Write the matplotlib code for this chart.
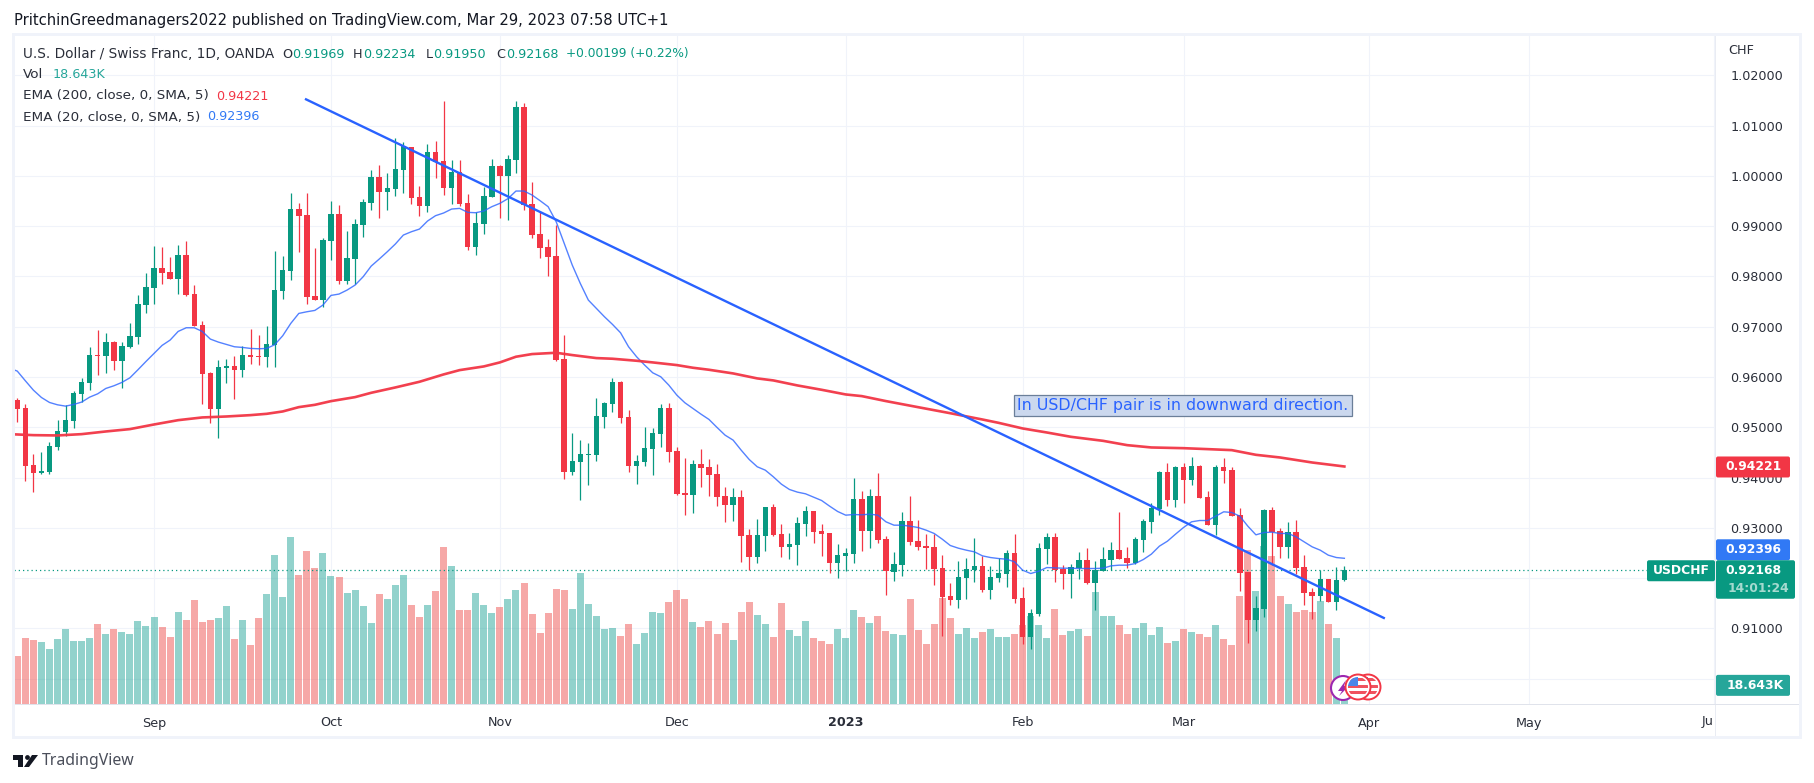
import numpy as np
import matplotlib
matplotlib.use('Agg')
import matplotlib.pyplot as plt
from matplotlib.patches import Rectangle, FancyBboxPatch, Circle, Polygon

plt.rcParams['font.family'] = ['DejaVu Sans']

# daily candles, in pips (price * 10000)
opens = np.array([
    9554, 9538.1, 9424.7, 9408.8, 9410.8, 9460.5, 9490.4, 9512.3, 9566, 9587.9,
    9643.5, 9641.5, 9669.4, 9631.6, 9659.4, 9679.3, 9743, 9776.8, 9816.6, 9808,
    9794.7, 9842.4, 9764.9, 9703.2, 9607.7, 9536.1, 9617.7, 9621.7, 9613.7, 9643.5,
    9641.5, 9639.6, 9663.4, 9770.8, 9810.6, 9933.9, 9922, 9760.9, 9752.9, 9870.3,
    9924, 9790.7, 9834.5, 9902.1, 9945.9, 9997.6, 9967.7, 9973.7, 10011.5, 10057.2,
    9957.8, 9939.9, 10047.3, 10029.4, 9975.7, 10007.5, 9945.9, 9858.3, 9904.1, 9957.8,
    10019.4, 9999.6, 10031.4, 10136.8, 9943.9, 9884.2, 9858.3, 9840.4, 9635.6, 9410.9,
    9430.7, 9444.7, 9444.7, 9520.2, 9546.1, 9589.9, 9520.2, 9422.8, 9430.7, 9456.6,
    9486.4, 9538.1, 9452.6, 9369.1, 9365.1, 9426.8, 9420.8, 9406.9, 9363.1, 9345.2,
    9361.1, 9285.6, 9241.8, 9283.6, 9341.2, 9287.5, 9261.7, 9265.6, 9307.4, 9333.3,
    9293.5, 9289.5, 9229.9, 9243.8, 9247.8, 9357.1, 9293.5, 9363.1, 9277.6, 9212,
    9225.9, 9313.4, 9273.6, 9263.7, 9261.7, 9219.9, 9164.2, 9156.2, 9200, 9215.9,
    9223.9, 9176.2, 9200, 9208, 9249.8, 9160.2, 9082.7, 9128.4, 9257.7, 9281.6,
    9217.9, 9208, 9219.9, 9235.8, 9190.1, 9214, 9235.8, 9255.7, 9239.8, 9229.9,
    9275.6, 9311.4, 9337.3, 9410.9, 9355.2, 9420.8, 9395, 9422.8, 9361.1, 9305.4,
    9420.8, 9414.8, 9325.3, 9212, 9116.5, 9138.4, 9335.3, 9293.5, 9261.7, 9291.5,
    9221.9, 9172.2, 9164.2, 9198, 9152.3, 9196.9]) / 1e4
highs = np.array([
    9557.3, 9546.1, 9446.6, 9450.6, 9470.5, 9514.2, 9543.4, 9571.9, 9597.8, 9659.4,
    9693.3, 9687.3, 9671.4, 9669.4, 9707.2, 9762.9, 9806.6, 9860.3, 9858.3, 9838.5,
    9862.3, 9870.3, 9782.8, 9711.2, 9609.7, 9633.6, 9635.6, 9641.5, 9661.4, 9695.3,
    9683.3, 9701.2, 9850.4, 9840.4, 9965.8, 9945.9, 9965.8, 9856.4, 9876.2, 9949.8,
    9941.9, 9890.2, 9914, 9953.8, 10011.5, 10021.4, 10005.5, 10075.1, 10067.2, 10057.2,
    9979.7, 10063.2, 10069.2, 10148.7, 10031.4, 10031.4, 9963.8, 9928, 9977.7, 10033.4,
    10021.4, 10041.3, 10148.7, 10144.8, 9987.6, 9928, 9874.2, 9902.1, 9683.3, 9488.4,
    9474.5, 9468.5, 9558, 9550, 9597.8, 9591.8, 9534.2, 9444.7, 9500.4, 9498.4,
    9546.1, 9548.1, 9460.6, 9438.7, 9434.7, 9456.6, 9436.7, 9426.8, 9381, 9379,
    9375, 9297.5, 9317.4, 9341.2, 9347.2, 9307.4, 9289.5, 9321.3, 9343.2, 9333.3,
    9307.4, 9289.5, 9267.6, 9259.7, 9398.9, 9373.1, 9377, 9408.9, 9283.6, 9251.7,
    9331.3, 9363.1, 9315.4, 9287.5, 9287.5, 9245.8, 9190.1, 9233.8, 9239.8, 9279.6,
    9243.8, 9223.9, 9239.8, 9255.7, 9287.5, 9182.1, 9138.4, 9269.6, 9289.5, 9289.5,
    9225.9, 9227.9, 9251.7, 9259.7, 9233.8, 9261.7, 9271.6, 9331.3, 9261.7, 9281.6,
    9317.4, 9349.2, 9412.8, 9428.8, 9422.8, 9428.8, 9440.7, 9424.8, 9373.1, 9424.8,
    9438.7, 9420.8, 9339.3, 9212, 9164.2, 9337.3, 9341.2, 9299.5, 9311.4, 9315.4,
    9245.8, 9180.1, 9215.9, 9198, 9221.9, 9223.4]) / 1e4
lows = np.array([
    9510.9, 9392.9, 9371, 9406.8, 9406.8, 9454.6, 9482.4, 9498.3, 9550.1, 9573.9,
    9603.8, 9607.7, 9613.7, 9577.9, 9657.5, 9665.4, 9727.1, 9745, 9784.8, 9794.7,
    9764.9, 9760.9, 9701.2, 9546.1, 9508.3, 9478.4, 9587.9, 9556, 9599.8, 9625.6,
    9623.7, 9619.7, 9619.7, 9754.9, 9792.7, 9848.4, 9745, 9752.9, 9739.7, 9832.5,
    9784.7, 9784.7, 9784.7, 9878.2, 9931.9, 9916, 9931.9, 9959.8, 9965.8, 9943.9,
    9920, 9928, 9995.6, 9961.8, 9943.9, 9939.9, 9852.4, 9842.4, 9884.2, 9957.8,
    9916, 9912, 10005.5, 9931.9, 9876.2, 9836.5, 9800.7, 9631.6, 9396.9, 9404.9,
    9355.2, 9385, 9432.7, 9498.4, 9530.2, 9508.3, 9410.9, 9387, 9422.8, 9404.9,
    9460.6, 9430.7, 9365.1, 9325.3, 9329.3, 9381, 9363.1, 9343.2, 9311.4, 9313.4,
    9231.8, 9215.9, 9229.9, 9253.7, 9283.6, 9241.8, 9237.8, 9225.9, 9283.6, 9269.6,
    9243.8, 9210, 9200, 9213.9, 9229.9, 9253.7, 9259.7, 9269.6, 9166.2, 9194.1,
    9204, 9265.7, 9255.7, 9217.9, 9186.1, 9084.7, 9146.3, 9140.3, 9158.2, 9192.1,
    9172.2, 9158.2, 9192.1, 9182.1, 9150.3, 9068.7, 9058.8, 9124.4, 9227.9, 9192.1,
    9178.1, 9160.2, 9198, 9188.1, 9136.4, 9214, 9215.9, 9237.8, 9219.9, 9227.9,
    9251.7, 9289.5, 9325.3, 9343.2, 9341.2, 9349.2, 9385, 9359.1, 9305.4, 9285.5,
    9389, 9323.3, 9174.2, 9070.8, 9094.6, 9122.4, 9225.9, 9239.8, 9239.8, 9208,
    9146.3, 9118.5, 9154.3, 9152.3, 9136.4, 9195]) / 1e4
closes = np.array([
    9536.1, 9422.8, 9408.8, 9412.8, 9462.5, 9492.4, 9514.2, 9567.9, 9589.8, 9643.5,
    9641.5, 9669.4, 9631.6, 9661.4, 9681.3, 9745, 9778.8, 9816.6, 9806.6, 9794.7,
    9842.4, 9762.9, 9701.2, 9605.7, 9536.1, 9619.7, 9621.7, 9613.7, 9643.5, 9639.6,
    9639.6, 9665.4, 9772.8, 9812.6, 9933.9, 9920, 9758.9, 9752.9, 9872.3, 9924,
    9790.7, 9836.5, 9904.1, 9947.8, 9997.6, 9967.7, 9975.7, 10013.5, 10059.2, 9955.8,
    9939.9, 10047.3, 10027.4, 9975.7, 10007.5, 9943.9, 9858.3, 9906.1, 9959.8, 10019.4,
    9999.6, 10033.4, 10136.8, 9941.9, 9882.2, 9856.4, 9838.5, 9633.6, 9410.9, 9432.7,
    9446.7, 9446.7, 9522.2, 9548.1, 9589.9, 9518.3, 9422.8, 9432.7, 9458.6, 9488.4,
    9538.1, 9450.6, 9367.1, 9365.1, 9426.8, 9418.8, 9404.9, 9361.1, 9345.2, 9361.1,
    9283.6, 9241.8, 9285.6, 9341.2, 9285.6, 9261.7, 9267.6, 9309.4, 9333.3, 9291.5,
    9287.5, 9229.9, 9245.8, 9249.7, 9357.1, 9293.5, 9363.1, 9275.6, 9213.9, 9227.9,
    9313.4, 9271.6, 9261.7, 9259.7, 9217.9, 9162.2, 9156.2, 9202, 9217.9, 9223.9,
    9176.2, 9202, 9210, 9249.8, 9158.2, 9082.7, 9130.4, 9259.7, 9281.6, 9215.9,
    9208, 9221.9, 9235.8, 9190.1, 9215.9, 9237.8, 9255.7, 9237.8, 9229.9, 9277.6,
    9313.4, 9339.3, 9410.9, 9355.2, 9420.8, 9395, 9422.8, 9359.1, 9305.4, 9420.8,
    9412.8, 9323.3, 9210, 9116.5, 9140.4, 9335.3, 9291.5, 9261.7, 9291.5, 9219.9,
    9170.2, 9164.2, 9198, 9152.3, 9196, 9216.8]) / 1e4

# volume in K
volumes = [
    48, 66, 64, 62, 55, 65, 75, 63, 63, 66,
    80, 70, 75, 72, 70, 83, 78, 87, 77, 67,
    92, 84, 104, 82, 84, 86, 98, 65, 84, 59,
    86, 110, 149, 107, 167, 129, 153, 136, 151, 128,
    127, 111, 114, 98, 81, 110, 105, 119, 129, 99,
    87, 99, 113, 157, 138, 94, 94, 111, 99, 91,
    97, 105, 114, 121, 90, 71, 91, 115, 114, 95,
    131, 100, 88, 75, 76, 68, 80, 60, 71, 92,
    91, 102, 114, 105, 82, 77, 83, 70, 81, 64,
    92, 102, 89, 80, 67, 101, 74, 68, 83, 66,
    63, 60, 75, 66, 94, 87, 81, 88, 73, 70,
    69, 105, 74, 60, 80, 106, 86, 70, 76, 66,
    72, 75, 67, 67, 70, 79, 88, 79, 66, 95,
    69, 73, 75, 68, 112, 88, 88, 79, 70, 76,
    81, 69, 77, 61, 63, 75, 72, 70, 67, 79,
    65, 59, 108, 154, 113, 158, 148, 108, 100, 92,
    94, 92, 103, 80, 66, 18.643]

# EMA 20, one reading per bar, starting one bar left of the first candle
ema20_vals = np.array([
    9617.7, 9611.7, 9592.5, 9573.9, 9559.3, 9549.4, 9544.7, 9542.1, 9545.4, 9550.1, 9560,
    9566.6, 9577.2, 9582.5, 9589.2, 9598.4, 9614.4, 9630.9, 9646.9, 9662.8, 9673.4,
    9690.6, 9697.9, 9697.9, 9690.6, 9675.4, 9669.4, 9664.8, 9660.1, 9658.8, 9656.8,
    9656.1, 9656.8, 9664.1, 9682, 9706.5, 9726.4, 9729.7, 9732.4, 9743, 9762.2,
    9764.9, 9772.8, 9782.8, 9799.3, 9820.5, 9834.5, 9849, 9864.3, 9882.2, 9888.8,
    9894.1, 9910, 9920.7, 9926, 9933.9, 9935.2, 9927.3, 9926.6, 9930, 9938.6,
    9945.2, 9954.5, 9969.7, 9969.7, 9961.8, 9950.5, 9938.6, 9908.7, 9865.6, 9822.5,
    9786, 9752.9, 9736.4, 9719.8, 9704.6, 9688, 9660.1, 9640.2, 9623.7, 9608.4,
    9600.5, 9583.9, 9564, 9548.8, 9537.5, 9526.2, 9515.6, 9499.7, 9484.4, 9474.5,
    9454.6, 9436, 9421.5, 9414.8, 9401.6, 9387, 9376.4, 9371.1, 9367.8, 9361.1,
    9354.5, 9343.2, 9332.6, 9325.3, 9326.6, 9326, 9327.3, 9325.3, 9312.1, 9305.4,
    9305.4, 9303.4, 9300.8, 9295.5, 9288.9, 9277.6, 9265, 9259.7, 9255.7, 9252.4,
    9244.4, 9241.1, 9239.1, 9237.8, 9232.5, 9215.9, 9209.3, 9213.9, 9221.2, 9220.6,
    9219.9, 9219.9, 9219.3, 9219.3, 9219.3, 9219.9, 9224.6, 9225.9, 9225.9, 9229.2,
    9237.1, 9247.8, 9263.7, 9273.6, 9287.5, 9300.8, 9312.1, 9314.7, 9314.7, 9323.3,
    9332, 9330.6, 9323.3, 9303.4, 9286.2, 9290.8, 9291.5, 9288.9, 9288.9, 9282.2,
    9272.3, 9262.3, 9255.7, 9245.8, 9241.1, 9239.6]) / 1e4
ema20_idx = np.arange(-1, len(ema20_vals) - 1)

# EMA 200, read at fewer bars because it is so smooth
ema200_idx = [-1, 2, 5, 8, 11, 14, 17, 20, 23, 26, 29, 31, 33, 35, 37, 39, 42, 44, 47, 50,
              53, 55, 58, 60, 62, 64, 67, 69, 72, 74, 77, 79, 82, 84, 86, 89, 92, 94, 97,
              100, 103, 105, 108, 112, 116, 120, 122, 125, 128, 131, 135, 138, 141, 145,
              148, 151, 154, 157, 161, 165]
ema200_vals = np.array([
    9486.4, 9484.4, 9483.8, 9486.4, 9491.7, 9496.4, 9505.6, 9514.2, 9519.6, 9521.5,
    9524.2, 9526.8, 9531.5, 9540.1, 9544.7, 9552, 9560, 9568.6, 9579.2, 9590.5,
    9605.1, 9613.7, 9621, 9629, 9640.3, 9645.6, 9648.2, 9643.6, 9637.6, 9636.3,
    9632.3, 9629, 9623.7, 9618.4, 9614.4, 9607.1, 9597.2, 9593.2, 9583.2, 9574.6,
    9565.3, 9562, 9552.1, 9540, 9528, 9515.5, 9508.9, 9497.7, 9489.7, 9481.1,
    9473.1, 9464.5, 9459.9, 9458.5, 9456.6, 9454.6, 9445.3, 9440, 9430, 9422.1]) / 1e4

trend_x = [35.9, 169.9]
trend_y = [1.0152, 0.9121]

price_ticks = [0.90, 0.91, 0.93, 0.94, 0.95, 0.96, 0.97, 0.98, 0.99, 1.00, 1.01, 1.02]
grid_prices = [0.92]
month_idx = [17, 39, 60, 82, 103, 125, 145, 168, 188, 211]
month_labels = ['Sep', 'Oct', 'Nov', 'Dec', '2023', 'Feb', 'Mar', 'Apr', 'May', '']

last_close = 0.92168
ema200_last = 0.94221
ema20_last = 0.92396
vol_last = 18.643

GREEN = '#089981'
RED = '#f23645'
BLUE = '#2962ff'
TEXT = '#2a2e39'
W, H = 1814, 783


def px_rect(x0, y0, x1, y1):
    return [x0 / W, 1 - y1 / H, (x1 - x0) / W, (y1 - y0) / H]


fig = plt.figure(figsize=(W / 100, H / 100), dpi=100, facecolor='white')
pos = px_rect(14, 33, 1715, 704)

# bottom layer only holds the grid and the axis labels
ax_bg = fig.add_axes(pos, zorder=1)
ax_bg.set_xlim(-0.41, 211.08)
ax_bg.set_ylim(0.89499, 1.02839)
ax_bg.set_xticks(month_idx)
ax_bg.set_xticklabels(month_labels, fontsize=9.2, color=TEXT)
ax_bg.get_xticklabels()[4].set_fontweight('bold')
ax_bg.yaxis.tick_right()
ax_bg.set_yticks(price_ticks)
ax_bg.set_yticklabels(['%.5f' % p for p in price_ticks], fontsize=9.2, color=TEXT)
ax_bg.tick_params(length=0)
ax_bg.tick_params(axis='y', pad=11)
ax_bg.tick_params(axis='x', pad=9)
ax_bg.grid(True, color='#f0f3fa', lw=0.8)
ax_bg.hlines(grid_prices, -0.41, 211.08, color='#f0f3fa', lw=0.8)
ax_bg.set_axisbelow(True)
for s in ax_bg.spines.values():
    s.set_visible(False)

x = np.arange(len(opens))
up = closes >= opens

ax_vol = fig.add_axes(pos, zorder=2, sharex=ax_bg)
ax_vol.patch.set_visible(False)
ax_vol.set_ylim(0, 671)
ax_vol.axis('off')
ax_vol.bar(x, volumes, width=0.87, linewidth=0,
           color=['#26a69a' if u else '#ef5350' for u in up], alpha=0.5)

ax = fig.add_axes(pos, zorder=3, sharex=ax_bg)
ax.patch.set_visible(False)
ax.set_ylim(ax_bg.get_ylim())
ax.axis('off')
colors = [GREEN if u else RED for u in up]
ax.axhline(last_close, color=GREEN, lw=0.9, ls=(0, (1, 2.4)), zorder=1)
ax.vlines(x, lows, highs, colors=colors, lw=0.9, zorder=2)
ax.bar(x, np.abs(closes - opens), bottom=np.minimum(opens, closes), width=0.68,
       color=colors, linewidth=0, zorder=3)
ax.plot(ema20_idx, ema20_vals, color='#2962ff', lw=1.0, alpha=0.8, zorder=4)
ax.plot(ema200_idx, ema200_vals, color=RED, lw=1.9, alpha=0.95, zorder=4)
ax.plot(trend_x, trend_y, color=BLUE, lw=1.7, zorder=5)
ax.text(144.9, 0.95437, 'In USD/CHF pair is in downward direction.', color=BLUE,
        fontsize=11.4, ha='center', va='center', zorder=6,
        bbox=dict(boxstyle='square,pad=0.2', fc='#cbd8ee', ec='#6b7f99', lw=0.9))

# pixel overlay for the frame, the axis tags, the event icons and the logo
ov = fig.add_axes([0, 0, 1, 1], zorder=4)
ov.set_xlim(0, W)
ov.set_ylim(H, 0)
ov.axis('off')
ov.patch.set_visible(False)

for r in [(12, 33, 1802, 36), (12, 33, 15, 739), (12, 736, 1802, 739), (1799, 33, 1802, 739)]:
    ov.add_patch(Rectangle((r[0], r[1]), r[2] - r[0], r[3] - r[1], fc='#f0f3fa', ec='none'))
ov.add_patch(Rectangle((1714.5, 36), 1, 700, fc='#e9ecf3', ec='none'))
ov.add_patch(Rectangle((15, 703.5), 1784, 1.5, fc='#e0e3eb', ec='none'))


def price_px(axes, value):
    return H - axes.transData.transform((0, value))[1]


def tag(x0, x1, y0, y1, color):
    ov.add_patch(FancyBboxPatch((x0, y0), x1 - x0, y1 - y0, fc=color, ec='none',
                                boxstyle='round,pad=0,rounding_size=2'))


def tag_text(xc, yc, s, color='white', weight='bold'):
    ov.text(xc, yc, s, color=color, fontsize=8.9, fontweight=weight, ha='center', va='center')


y_ema200 = price_px(ax, ema200_last)
y_ema20 = price_px(ax, ema20_last)
y_close = price_px(ax, last_close)
y_vol = price_px(ax_vol, vol_last)
tag(1716, 1790, y_ema200 - 10, y_ema200 + 11, RED)
tag_text(1753, y_ema200, '%.5f' % ema200_last)
tag(1716, 1790, y_ema20 - 19, y_ema20 + 2, '#3179f5')
tag_text(1753, y_ema20 - 8.5, '%.5f' % ema20_last)
tag(1716, 1795, y_close - 9.5, y_close + 29, GREEN)
tag_text(1753, y_close + 0.5, '%.5f' % last_close)
tag_text(1758, y_close + 19, '14:01:24', color='#a5dacf')
tag(1647, 1715, y_close - 9.5, y_close + 11.5, GREEN)
tag_text(1681, y_close + 0.5, 'USDCHF')
tag(1716, 1790, y_vol - 10.5, y_vol + 10.5, '#26a69a')
tag_text(1755, y_vol, '18.643K')


def flag(cx, cy):
    clip = Circle((cx, cy), 10, transform=ov.transData)
    ov.add_patch(Circle((cx, cy), 12.5, fc='white', ec=RED, lw=1.4, zorder=5))
    for k in range(3):
        st = Rectangle((cx - 11, cy - 9 + k * 6.5), 22, 3.4, fc='#f0525e', ec='none', zorder=5)
        ov.add_patch(st)
        st.set_clip_path(clip)
    can = Rectangle((cx - 11, cy - 11), 11, 10, fc='#4a86ea', ec='none', zorder=5)
    ov.add_patch(can)
    can.set_clip_path(clip)


ov.add_patch(Circle((1343, 688), 12, fc='white', ec='#9c27b0', lw=1.5, zorder=5))
ov.add_patch(Polygon([(1346, 680), (1338, 691), (1342, 691), (1339, 696), (1349, 686), (1344, 686)],
                     fc='#9c27b0', ec='none', zorder=5))
flag(1368, 687)
flag(1358, 687)

# TradingView logo
ov.add_patch(Polygon([(13, 755), (23, 755), (23, 767), (18, 767), (18, 760), (13, 760)], fc='#131722', ec='none'))
ov.add_patch(Circle((27.5, 757.5), 2.4, fc='#131722', ec='none'))
ov.add_patch(Polygon([(32, 755), (38, 755), (29, 767), (24, 767)], fc='#131722', ec='none'))


def label(px, py, s, color=TEXT, size=9.2, family='DejaVu Sans'):
    fig.text(px / W, 1 - py / H, s, color=color, fontsize=size, ha='left', va='center', family=family)


label(13.5, 20, 'PritchinGreedmanagers2022 published on TradingView.com, Mar 29, 2023 07:58 UTC+1',
      color='#131722', size=10.6)
label(42, 761, 'TradingView', color='#4a4e5a', size=11.4, family='Noto Sans')
label(1728, 51, 'CHF')
label(1702, 721, 'Ju')

label(23.3, 54, 'U.S. Dollar / Swiss Franc, 1D, OANDA', size=9.8)
for px, s, c in [(282, 'O', TEXT), (292, '0.91969', GREEN), (353, 'H', TEXT), (363, '0.92234', GREEN),
                 (426, 'L', TEXT), (433, '0.91950', GREEN), (496, 'C', TEXT), (506, '0.92168', GREEN)]:
    label(px, 54, s, color=c)
label(566, 54, '+0.00199 (+0.22%)', color=GREEN, size=8.8)
label(23.3, 75, 'Vol', size=9.7)
label(53, 75, '18.643K', color='#26a69a')
label(23.3, 96, 'EMA (200, close, 0, SMA, 5)', size=9.7)
label(215.7, 96, '0.94221', color=RED)
label(23.3, 117, 'EMA (20, close, 0, SMA, 5)', size=9.7)
label(207.3, 117, '0.92396', color='#3179f5')

fig.savefig('out.png', dpi=100)
